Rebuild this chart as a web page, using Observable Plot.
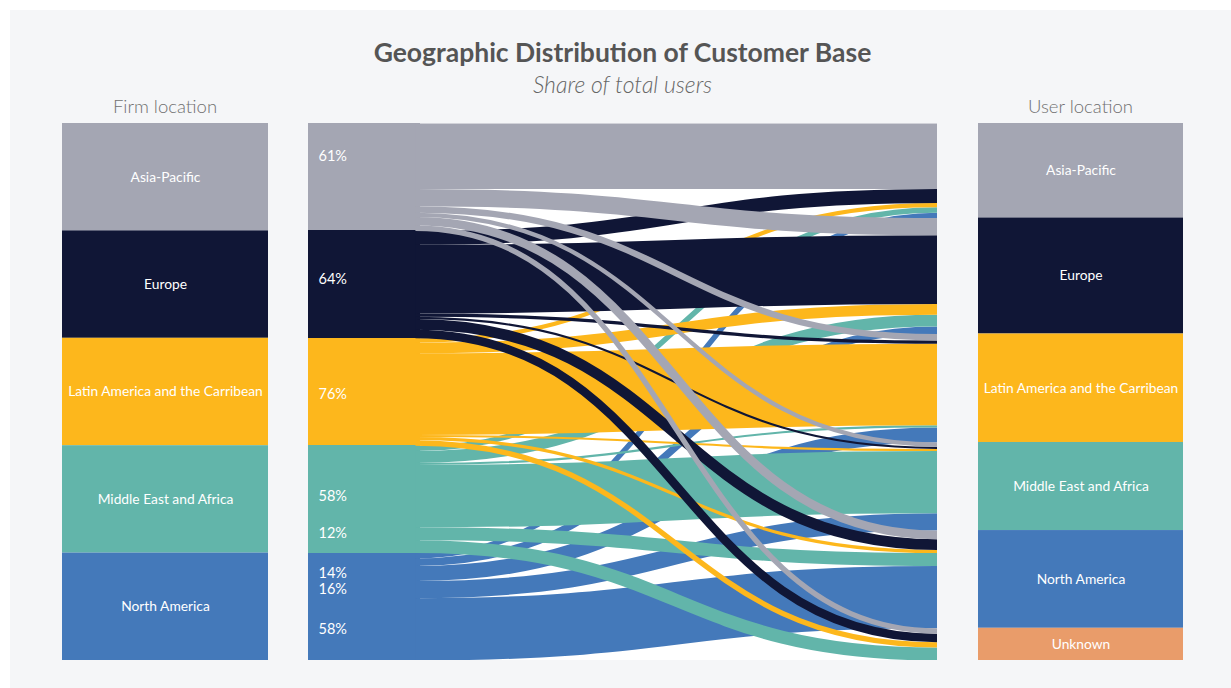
<!DOCTYPE html>
<html>
<head>
<meta charset="utf-8">
<script src="https://cdn.jsdelivr.net/npm/d3@7"></script>
<script src="https://cdn.jsdelivr.net/npm/@observablehq/plot@0.6"></script>
<style>
  html, body { margin: 0; padding: 0; background: #ffffff; }
  body { position: relative; width: 1231px; height: 688px; overflow: hidden; font-family: Lato, "Noto Sans", sans-serif; }
  #page { position: absolute; left: 10px; top: 10px; width: 1221px; height: 678px; background: #f5f6f8; }
  .abs { position: absolute; }
  #title { left: 0; width: 1245px; top: 36px; line-height: 32px; text-align: center; font-size: 26.5px; font-weight: 700; color: #555555; }
  #subtitle { left: 0; width: 1245px; top: 70px; line-height: 28px; text-align: center; font-size: 23px; font-weight: 300; font-style: italic; color: #666666; }
  .head { top: 95px; line-height: 22px; text-align: center; font-size: 18.5px; font-weight: 300; color: #707070; }
  svg { display: block; }
</style>
</head>
<body>
<div id="page"></div>
<div class="abs" id="title">Geographic Distribution of Customer Base</div>
<div class="abs" id="subtitle">Share of total users</div>
<div class="abs head" style="left:62px;width:206px;">Firm location</div>
<div class="abs head" style="left:978px;width:205px;">User location</div>
<div class="abs" id="left" style="left:62px;top:123px;"></div>
<div class="abs" id="middle" style="left:308px;top:123px;"></div>
<div class="abs" id="right" style="left:978px;top:123px;"></div>
<script>
// ---- data ----
const firmRegions = ["Asia-Pacific", "Europe", "Latin America and the Carribean", "Middle East and Africa", "North America"];
const userRegions = ["Asia-Pacific", "Europe", "Latin America and the Carribean", "Middle East and Africa", "North America", "Unknown"];
const regionColors = ["#a4a6b3", "#101636", "#fdb71c", "#62b5aa", "#4479ba", "#e99c6a"];

// share of each firm location's users (%) by user location, in userRegions order
const fromAsiaPacific = [61, 16, 6, 4, 8, 5];
const fromEurope = [13, 64, 3, 2, 10, 8];
const fromLatinAmerica = [4, 10, 76, 2, 3, 5];
const fromMiddleEastAfrica = [5, 11, 2, 58, 12, 12];
const fromNorthAmerica = [5, 7, 14, 16, 58, 0];

// flows that carry a percentage label: [firm index, user index]
const labelledFlows = [[0, 0], [1, 1], [2, 2], [3, 3], [3, 4], [4, 2], [4, 3], [4, 4]];

// ---- layout ----
const matrix = [fromAsiaPacific, fromEurope, fromLatinAmerica, fromMiddleEastAfrica, fromNorthAmerica];
const rowTotals = matrix.map(r => d3.sum(r));
const colTotals = userRegions.map((_, j) => d3.sum(matrix, r => r[j]));
const total = d3.sum(rowTotals);

let acc = 0;
const firmBars = firmRegions.map((r, i) => { const o = {region: r, y0: acc, y1: acc + rowTotals[i]}; acc += rowTotals[i]; return o; });
acc = 0;
const userBars = userRegions.map((r, j) => { const o = {region: r, y0: acc, y1: acc + colTotals[j]}; acc += colTotals[j]; return o; });

const links = [];
matrix.forEach((row, i) => {
  let s = firmBars[i].y0;
  row.forEach((v, j) => {
    const t = userBars[j].y0 + d3.sum(matrix.slice(0, i), r => r[j]);
    if (v > 0) links.push({i, j, source: firmRegions[i], value: v, ys: s + v / 2, yt: t + v / 2});
    s += v;
  });
});
const drawOrder = links.slice().sort((a, b) => b.i - a.i || b.j - a.j);
const labelLinks = links.filter(l => labelledFlows.some(([a, b]) => a === l.i && b === l.j));

const H = 537;
const k = H / total;
const lead = 0.17; // straight stretch of each firm band before the flows bend
const colorScale = {type: "ordinal", domain: userRegions, range: regionColors};
const yScale = {domain: [0, total], reverse: true, axis: null};

function barPanel(bars, w) {
  return Plot.plot({
    width: w, height: H, margin: 0,
    x: {domain: [0, 1], axis: null},
    y: yScale,
    color: colorScale,
    style: {background: "transparent", overflow: "visible"},
    marks: [
      Plot.rect(bars, {x1: 0, x2: 1, y1: "y0", y2: "y1", fill: "region"}),
      Plot.text(bars, {x: 0.5, y: d => (d.y0 + d.y1) / 2, text: "region", fill: "white", fontSize: 13.8, fontFamily: "Lato"})
    ]
  });
}

document.getElementById("left").append(barPanel(firmBars, 206));
document.getElementById("right").append(barPanel(userBars, 205));

document.getElementById("middle").append(Plot.plot({
  width: 629, height: H, margin: 0,
  x: {domain: [0, 1], axis: null},
  y: yScale,
  color: colorScale,
  style: {background: "white", overflow: "hidden"},
  marks: [
    Plot.rect(firmBars, {x1: 0, x2: lead + 0.008, y1: "y0", y2: "y1", fill: "region", shapeRendering: "crispEdges"}),
    Plot.link(drawOrder, {x1: lead, x2: 1, y1: "ys", y2: "yt", stroke: "source", strokeWidth: d => d.value * k, curve: "bump-x", strokeLinecap: "butt", strokeOpacity: 1}),
    Plot.text(labelLinks, {x: 0, y: "ys", text: d => d.value + "%", textAnchor: "start", dx: 10, fill: "white", fontSize: 14.5, fontFamily: "Lato"})
  ]
}));
</script>
</body>
</html>
